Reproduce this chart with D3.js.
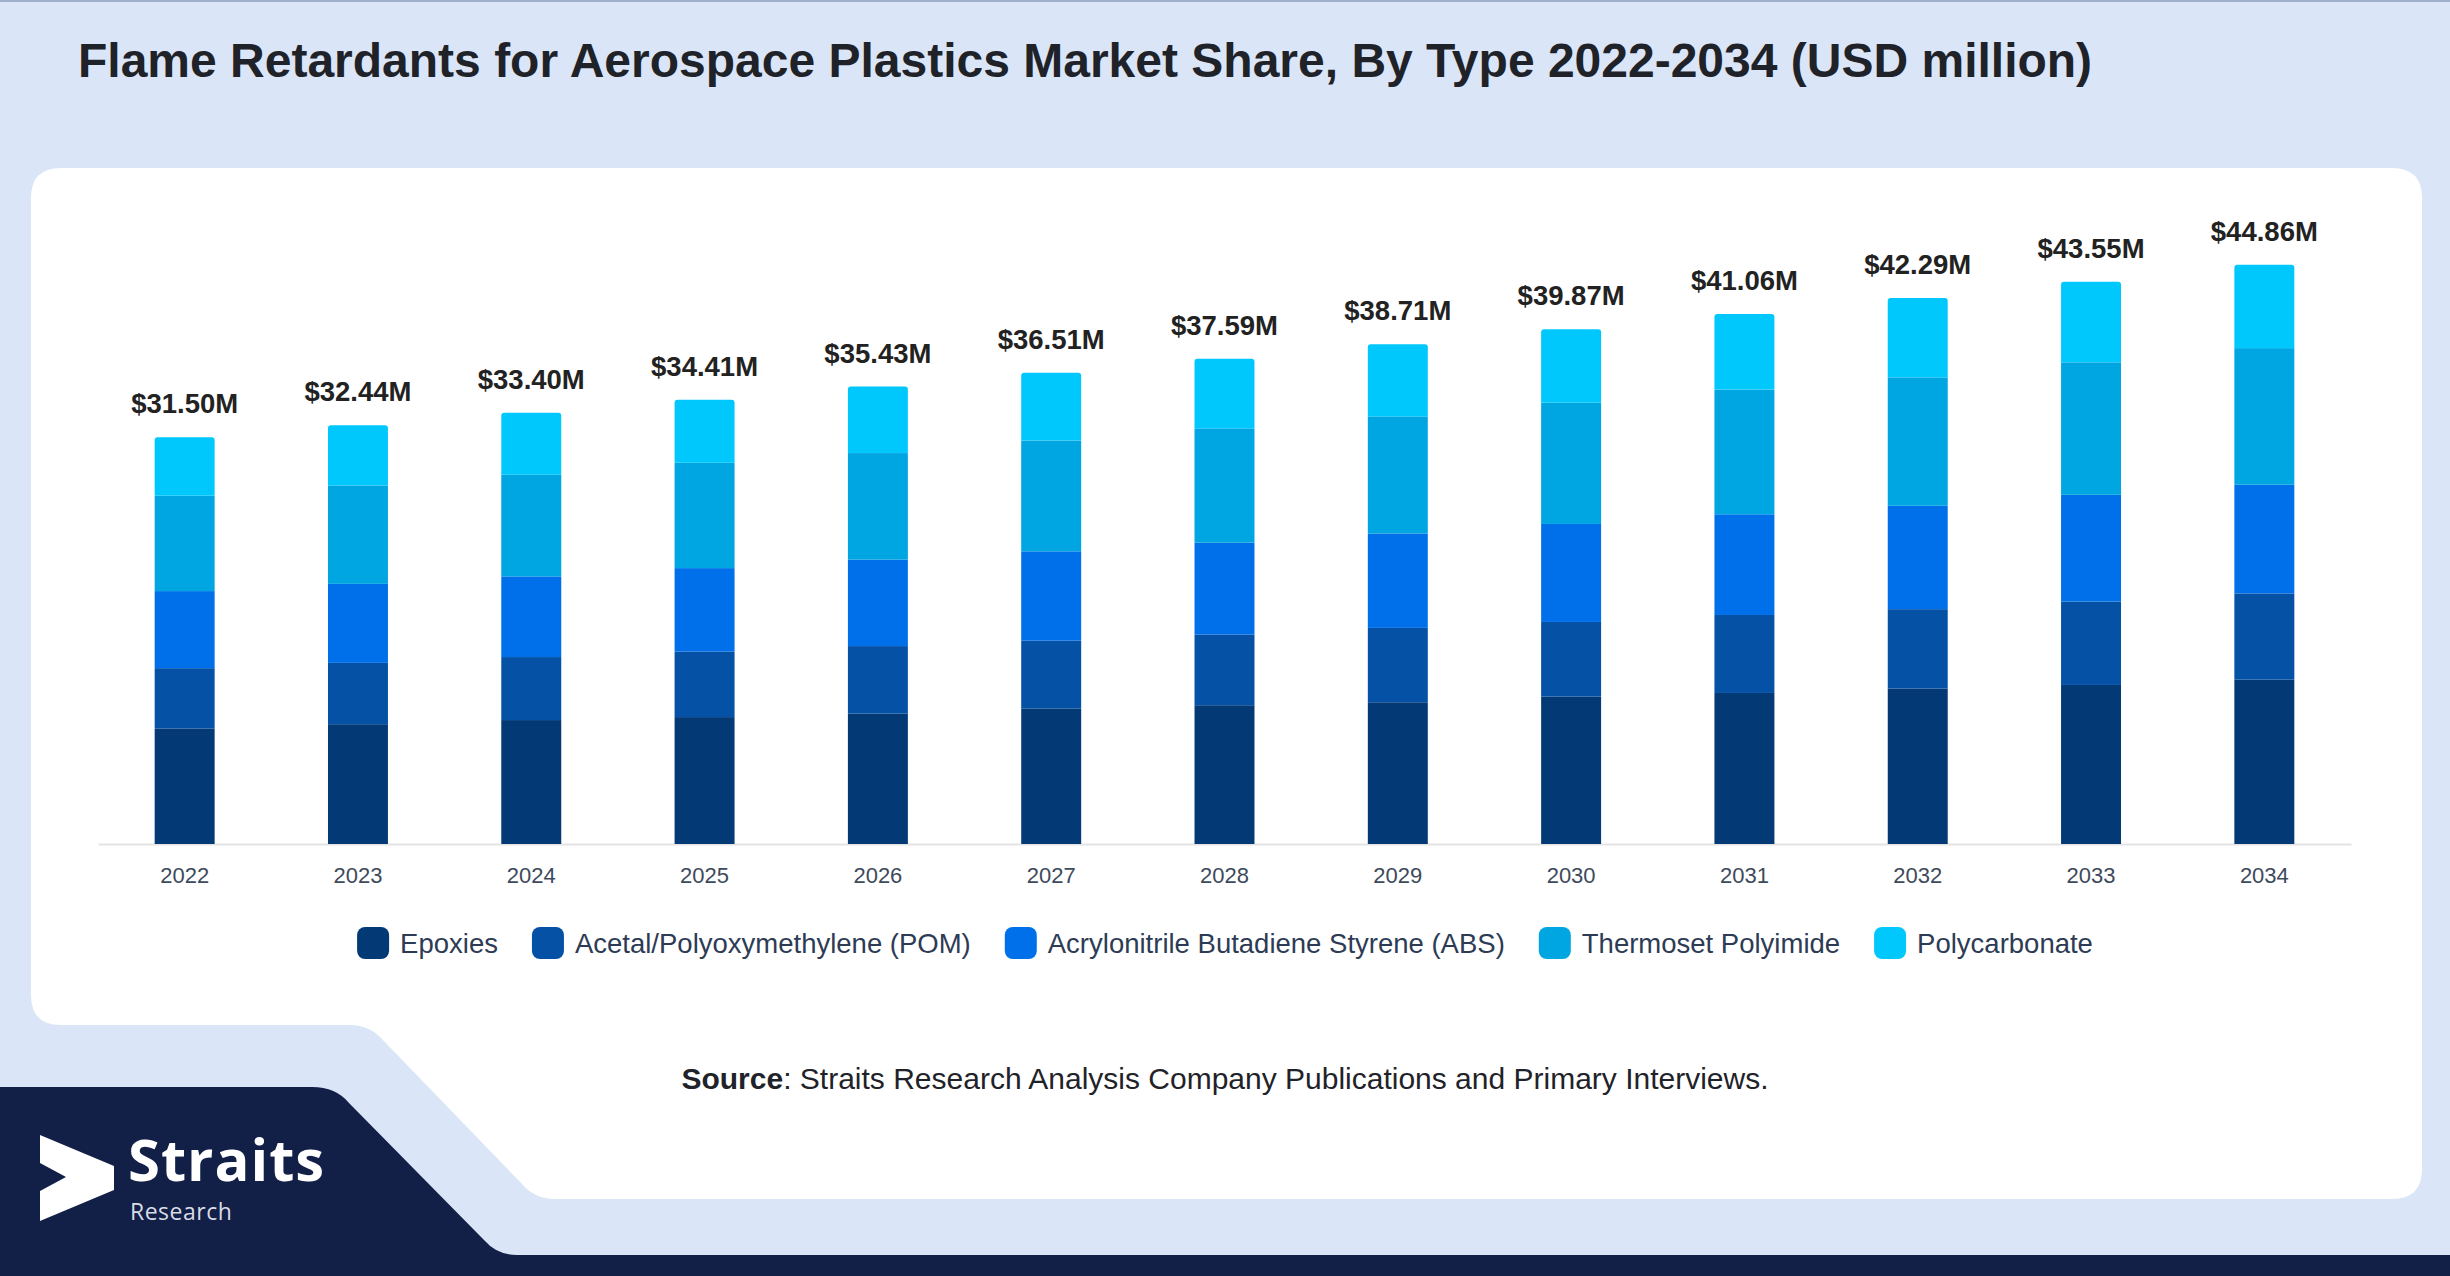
<!DOCTYPE html>
<html lang="en">
<head>
<meta charset="UTF-8">
<script src="https://d3js.org/d3.v7.min.js"></script>
<style>
    body { margin: 0; padding: 0; background: #dae6f8; overflow: hidden; }
    svg { display: block; font-family: "Liberation Sans", Arial, sans-serif; }
</style>
</head>
<body>
<svg id="chart" width="2450" height="1276"></svg>
<script>
    // values in USD million
    const years = ["2022", "2023", "2024", "2025", "2026", "2027", "2028", "2029", "2030", "2031", "2032", "2033", "2034"];
    const totals = [31.50, 32.44, 33.40, 34.41, 35.43, 36.51, 37.59, 38.71, 39.87, 41.06, 42.29, 43.55, 44.86];
    const epoxies = [8.95, 9.28, 9.60, 9.83, 10.10, 10.50, 10.75, 10.98, 11.42, 11.70, 12.04, 12.32, 12.73];
    const pom = [4.67, 4.75, 4.88, 5.08, 5.23, 5.25, 5.48, 5.76, 5.78, 6.04, 6.15, 6.46, 6.68];
    const abs = [5.97, 6.12, 6.25, 6.46, 6.70, 6.92, 7.11, 7.31, 7.59, 7.80, 8.01, 8.27, 8.42];
    const thermoset = [7.38, 7.62, 7.87, 8.16, 8.25, 8.58, 8.85, 9.07, 9.38, 9.66, 9.94, 10.26, 10.58];
    const polycarbonate = [4.53, 4.67, 4.80, 4.88, 5.15, 5.26, 5.40, 5.59, 5.70, 5.86, 6.15, 6.24, 6.45];

    const seriesNames = ["Epoxies", "Acetal/Polyoxymethylene (POM)", "Acrylonitrile Butadiene Styrene (ABS)", "Thermoset Polyimide", "Polycarbonate"];
    const seriesValues = [epoxies, pom, abs, thermoset, polycarbonate];
    const colors = ["#033a76", "#0451a5", "#0070ea", "#00a6e2", "#00c8fc"];

    function drawChart() {
        const width = 2450, height = 1276;
        const svg = d3.select("#chart");
        svg.selectAll("*").remove();

        // page background and frame shapes
        svg.append("rect").attr("width", width).attr("height", height).attr("fill", "#dae6f8");
        svg.append("rect").attr("width", width).attr("height", 2).attr("fill", "#9fb0cc");

        svg.append("path")
            .attr("d", "M61,168 H2392 Q2422,168 2422,198 V1169 Q2422,1199 2392,1199 H555 Q535,1199 522,1184 L380,1037 Q368,1025 350,1025 H61 Q31,1025 31,995 V198 Q31,168 61,168 Z")
            .attr("fill", "#ffffff");

        svg.append("path")
            .attr("d", "M0,1087 H312 Q336,1087 349,1103 L484,1240 Q497,1255 517,1255 H2450 V1276 H0 Z")
            .attr("fill", "#121f47");

        // logo
        const logo = svg.append("g");
        logo.append("path")
            .attr("d", "M40,1135 L114,1166 L114,1190 L40,1221 L40,1191 L66,1177 L40,1163 Z")
            .attr("fill", "#ffffff");
        logo.append("text")
            .attr("x", 128).attr("y", 1181)
            .attr("font-family", "'Open Sans', sans-serif")
            .attr("font-weight", 700)
            .attr("font-size", 58)
            .attr("letter-spacing", 1)
            .attr("fill", "#ffffff")
            .text("Straits");
        logo.append("text")
            .attr("x", 130).attr("y", 1220)
            .attr("font-family", "'Open Sans', sans-serif")
            .attr("font-size", 23)
            .attr("letter-spacing", 0.5)
            .attr("fill", "#d8dce6")
            .text("Research");

        // title
        svg.append("text")
            .attr("x", 78).attr("y", 77)
            .attr("font-size", 48)
            .attr("font-weight", "bold")
            .attr("fill", "#1f2329")
            .text("Flame Retardants for Aerospace Plastics Market Share, By Type 2022-2034 (USD million)");

        // scales
        const x = d3.scaleBand()
            .domain(years)
            .range([98, 2351])
            .paddingInner(0.654)
            .paddingOuter(0.327);

        const y = d3.scaleLinear()
            .domain([0, 50])
            .range([844, 198.5]);

        const rows = years.map((yr, i) => {
            const r = { year: yr };
            seriesNames.forEach((s, k) => { r[s] = seriesValues[k][i]; });
            return r;
        });
        const stacked = d3.stack().keys(seriesNames)(rows);
        const color = d3.scaleOrdinal().domain(seriesNames).range(colors);

        // x axis
        const axis = svg.append("g")
            .attr("transform", "translate(0,844)")
            .call(d3.axisBottom(x).tickSize(0).tickSizeOuter(0).tickPadding(23));
        axis.select(".domain").attr("stroke", "#e3e3e3").attr("stroke-width", 2);
        axis.selectAll("text")
            .attr("font-family", "'Liberation Sans', Arial, sans-serif")
            .attr("font-size", 22)
            .attr("fill", "#3d4a5c");

        // rounded top only for the last layer
        function topRounded(x0, y0, w, h, r) {
            return `M${x0},${y0 + h} V${y0 + r} Q${x0},${y0} ${x0 + r},${y0} H${x0 + w - r} Q${x0 + w},${y0} ${x0 + w},${y0 + r} V${y0 + h} Z`;
        }

        const layers = svg.append("g").selectAll("g")
            .data(stacked)
            .enter()
            .append("g")
            .attr("fill", d => color(d.key));

        layers.each(function (layer, li) {
            const g = d3.select(this);
            if (li === stacked.length - 1) {
                g.selectAll("path")
                    .data(layer)
                    .enter()
                    .append("path")
                    .attr("d", d => topRounded(x(d.data.year), y(d[1]), x.bandwidth(), y(d[0]) - y(d[1]), 3));
            } else {
                g.selectAll("rect")
                    .data(layer)
                    .enter()
                    .append("rect")
                    .attr("x", d => x(d.data.year))
                    .attr("y", d => y(d[1]))
                    .attr("width", x.bandwidth())
                    .attr("height", d => y(d[0]) - y(d[1]));
            }
        });

        // total labels
        const top = stacked[stacked.length - 1];
        svg.append("g").selectAll("text")
            .data(years)
            .enter()
            .append("text")
            .attr("x", d => x(d) + x.bandwidth() / 2)
            .attr("y", (d, i) => y(top[i][1]) - 24)
            .attr("text-anchor", "middle")
            .attr("font-size", 27.5)
            .attr("font-weight", "bold")
            .attr("fill", "#222222")
            .text((d, i) => "$" + totals[i].toFixed(2) + "M");

        // legend
        const legend = svg.append("g").attr("transform", "translate(0,943)");
        let cx = 0;
        seriesNames.forEach((s, k) => {
            const item = legend.append("g").attr("transform", `translate(${cx},0)`);
            item.append("rect")
                .attr("x", 0).attr("y", -16)
                .attr("width", 32).attr("height", 32)
                .attr("rx", 8)
                .attr("fill", colors[k]);
            const t = item.append("text")
                .attr("x", 43).attr("dy", "0.35em")
                .attr("font-size", 27.5)
                .attr("fill", "#2d3b55")
                .text(s);
            cx += 43 + t.node().getComputedTextLength() + 34;
        });
        const legendWidth = cx - 34;
        legend.attr("transform", `translate(${1225 - legendWidth / 2},943)`);

        // source line
        const src = svg.append("text")
            .attr("x", 1225).attr("y", 1089)
            .attr("text-anchor", "middle")
            .attr("font-size", 30)
            .attr("fill", "#1f2329");
        src.append("tspan").attr("font-weight", "bold").text("Source");
        src.append("tspan").text(": Straits Research Analysis Company Publications and Primary Interviews.");
    }

    drawChart();
</script>
</body>
</html>
